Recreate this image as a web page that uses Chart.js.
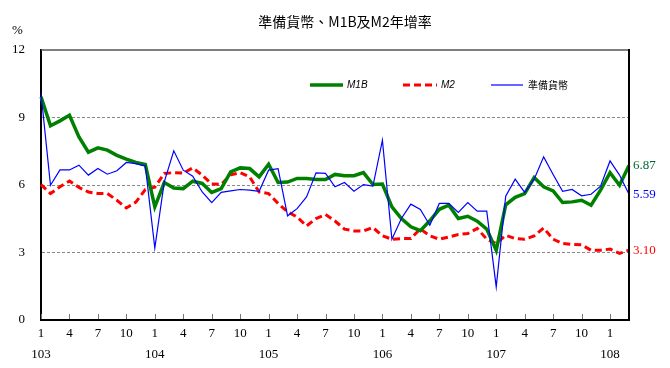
<!DOCTYPE html>
<html>
<head>
<meta charset="utf-8">
<script src="https://cdn.jsdelivr.net/npm/chart.js@4"></script>
<style>
  html, body { margin: 0; padding: 0; background: #fff; }
  #wrap { width: 670px; height: 368px; }
</style>
</head>
<body>
<div id="wrap"><canvas id="rateChart" width="670" height="368"></canvas></div>
<script>
// 월별 구간 (민국 103/1 ~ 108/3)
const periods = [
  '103/1','103/2','103/3','103/4','103/5','103/6','103/7','103/8','103/9','103/10','103/11','103/12',
  '104/1','104/2','104/3','104/4','104/5','104/6','104/7','104/8','104/9','104/10','104/11','104/12',
  '105/1','105/2','105/3','105/4','105/5','105/6','105/7','105/8','105/9','105/10','105/11','105/12',
  '106/1','106/2','106/3','106/4','106/5','106/6','106/7','106/8','106/9','106/10','106/11','106/12',
  '107/1','107/2','107/3','107/4','107/5','107/6','107/7','107/8','107/9','107/10','107/11','107/12',
  '108/1','108/2','108/3'
];
const shownMonths = ['1', '4', '7', '10'];
const yTicks = [0, 3, 6, 9, 12];

// 연증가율 (%)
const m1b = [
  9.92, 8.63, 8.85, 9.10, 8.14, 7.46, 7.65, 7.55, 7.32, 7.15,
  7.00, 6.91, 5.03, 6.11, 5.87, 5.84, 6.17, 6.07, 5.67, 5.84,
  6.58, 6.76, 6.73, 6.36, 6.92, 6.11, 6.13, 6.29, 6.29, 6.24,
  6.24, 6.47, 6.41, 6.41, 6.55, 6.02, 6.04, 5.03, 4.51, 4.14,
  3.97, 4.41, 4.92, 5.10, 4.51, 4.61, 4.39, 4.04, 3.10, 5.12,
  5.45, 5.62, 6.33, 5.92, 5.74, 5.22, 5.25, 5.32, 5.10, 5.77,
  6.55, 5.99, 6.87
];
const m2 = [
  6.02, 5.62, 5.92, 6.18, 5.89, 5.69, 5.62, 5.62, 5.32, 4.98,
  5.24, 5.80, 5.90, 6.51, 6.55, 6.53, 6.76, 6.44, 6.04, 6.03,
  6.45, 6.55, 6.36, 5.69, 5.62, 5.18, 4.81, 4.58, 4.18, 4.51,
  4.69, 4.40, 4.04, 3.96, 3.96, 4.11, 3.74, 3.59, 3.62, 3.62,
  4.05, 3.74, 3.59, 3.69, 3.80, 3.84, 4.07, 3.59, 3.40, 3.76,
  3.62, 3.59, 3.74, 4.09, 3.59, 3.40, 3.36, 3.34, 3.10, 3.10,
  3.15, 2.96, 3.10
];
const reserveMoney = [
  10.07, 5.99, 6.67, 6.67, 6.88, 6.44, 6.73, 6.48, 6.63, 7.00,
  6.95, 6.84, 3.20, 6.14, 7.52, 6.66, 6.39, 5.69, 5.22, 5.67,
  5.74, 5.80, 5.77, 5.72, 6.66, 6.73, 4.63, 4.95, 5.47, 6.54,
  6.52, 5.92, 6.11, 5.72, 6.02, 5.95, 7.99, 3.59, 4.51, 5.15,
  4.91, 4.21, 5.18, 5.18, 4.78, 5.22, 4.84, 4.84, 1.47, 5.50,
  6.26, 5.67, 6.26, 7.25, 6.47, 5.72, 5.80, 5.52, 5.59, 5.95,
  7.07, 6.44, 5.59
];

const serifFont = '"Liberation Serif", "DejaVu Serif", serif';
const cjkFont = '"Noto Sans CJK TC", "Noto Sans CJK SC", sans-serif';

// 차트 바깥 글자, 범례, 테두리, 끝값 표시
const decorPlugin = {
  id: 'decor',
  afterDraw(chart) {
    const { ctx, chartArea: a, scales: { x, y } } = chart;
    ctx.save();

    // 제목, 단위
    ctx.fillStyle = '#000';
    ctx.font = '14px ' + cjkFont;
    ctx.textAlign = 'center';
    ctx.textBaseline = 'middle';
    ctx.fillText('準備貨幣、M1B及M2年增率', 345, 22);
    ctx.font = '13px ' + serifFont;
    ctx.textAlign = 'left';
    ctx.fillText('%', 12, 31);

    // 위/오른쪽 테두리
    ctx.strokeStyle = '#555';
    ctx.lineWidth = 1.5;
    ctx.beginPath();
    ctx.moveTo(a.left, a.top);
    ctx.lineTo(a.right, a.top);
    ctx.stroke();
    ctx.strokeStyle = '#000';
    ctx.lineWidth = 2;
    ctx.beginPath();
    ctx.moveTo(a.right, a.top - 1);
    ctx.lineTo(a.right, a.bottom + 1);
    ctx.stroke();

    // x축 눈금 표시
    ctx.strokeStyle = '#777';
    ctx.lineWidth = 1;
    periods.forEach((p, i) => {
      if (!shownMonths.includes(p.split('/')[1])) return;
      const px = Math.round(x.getPixelForValue(i)) + 0.5;
      ctx.beginPath();
      ctx.moveTo(px, a.bottom - 1);
      ctx.lineTo(px, a.bottom - 6);
      ctx.stroke();
    });

    // 범례
    const legendY = 85;
    const items = [
      { ds: 0, x1: 310, x2: 343, tx: 347, text: 'M1B', font: 'italic 10px "Liberation Sans", sans-serif' },
      { ds: 1, x1: 403, x2: 437, tx: 441, text: 'M2', font: 'italic 10px "Liberation Sans", sans-serif' },
      { ds: 2, x1: 491, x2: 523, tx: 528, text: '準備貨幣', font: '10px ' + cjkFont }
    ];
    items.forEach(it => {
      const ds = chart.data.datasets[it.ds];
      ctx.strokeStyle = ds.borderColor;
      ctx.lineWidth = ds.borderWidth;
      ctx.setLineDash(ds.borderDash || []);
      ctx.beginPath();
      ctx.moveTo(it.x1, legendY);
      ctx.lineTo(it.x2, legendY);
      ctx.stroke();
      ctx.setLineDash([]);
      ctx.fillStyle = '#000';
      ctx.font = it.font;
      ctx.textBaseline = 'middle';
      ctx.fillText(it.text, it.tx, legendY);
    });

    // 마지막 값
    const last = periods.length - 1;
    const ends = [
      { v: m1b[last], color: '#006633' },
      { v: reserveMoney[last], color: '#0000ff' },
      { v: m2[last], color: '#ff0000' }
    ];
    ctx.font = '13px ' + serifFont;
    ctx.textAlign = 'left';
    ctx.textBaseline = 'middle';
    ends.forEach(e => {
      ctx.fillStyle = e.color;
      ctx.fillText(e.v.toFixed(2), a.right + 4, y.getPixelForValue(e.v));
    });

    ctx.restore();
  }
};

new Chart(document.getElementById('rateChart').getContext('2d'), {
  type: 'line',
  data: {
    labels: periods,
    datasets: [
      {
        label: 'M1B',
        data: m1b,
        borderColor: '#008000',
        borderWidth: 3.5,
        pointRadius: 0,
        order: 1
      },
      {
        label: 'M2',
        data: m2,
        borderColor: '#ff0000',
        borderWidth: 3,
        borderDash: [7, 4],
        pointRadius: 0,
        order: 2
      },
      {
        label: '準備貨幣',
        data: reserveMoney,
        borderColor: '#0000ff',
        borderWidth: 1.2,
        pointRadius: 0,
        order: 0
      }
    ]
  },
  options: {
    responsive: false,
    animation: false,
    layout: { padding: { left: 0, right: 41, top: 50, bottom: 0 } },
    plugins: {
      legend: { display: false },
      tooltip: { enabled: false },
      title: { display: false }
    },
    scales: {
      x: {
        offset: false,
        grid: { display: false, drawTicks: false },
        border: { display: true, color: '#000', width: 2 },
        afterFit: s => { s.height = 48; },
        ticks: {
          autoSkip: false,
          maxRotation: 0,
          padding: 3,
          color: '#000',
          font: { family: serifFont, size: 13, lineHeight: 1.6 },
          callback: function (val, i) {
            const [yr, mo] = periods[i].split('/');
            if (!shownMonths.includes(mo)) return '';
            return mo === '1' ? [mo, yr] : [mo, ''];
          }
        }
      },
      y: {
        min: 0,
        max: 12,
        afterBuildTicks: s => { s.ticks = yTicks.map(v => ({ value: v })); },
        afterFit: s => { s.width = 41; },
        grid: {
          drawTicks: false,
          lineWidth: 1,
          color: c => (c.tick && c.tick.value > 0 && c.tick.value < 12) ? '#888' : 'rgba(0,0,0,0)'
        },
        border: { display: true, color: '#000', width: 2, dash: [3, 2] },
        ticks: {
          padding: 16,
          color: '#000',
          font: { family: serifFont, size: 13 }
        }
      }
    }
  },
  plugins: [decorPlugin]
});
</script>
</body>
</html>
